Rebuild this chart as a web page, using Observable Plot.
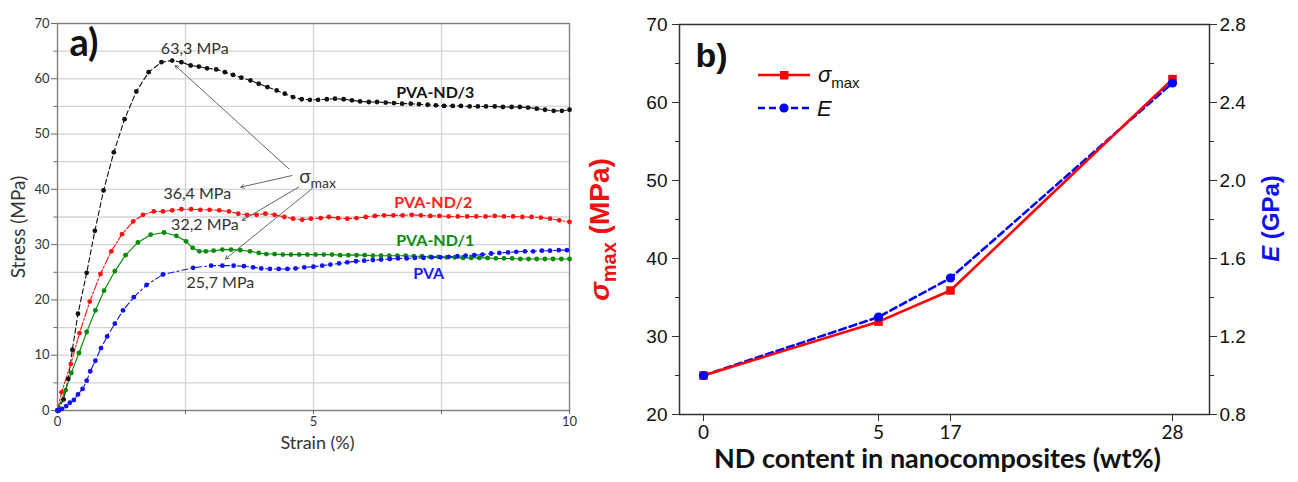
<!DOCTYPE html>
<html><head><meta charset="utf-8">
<script src="https://cdn.jsdelivr.net/npm/d3@7"></script>
<script src="https://cdn.jsdelivr.net/npm/@observablehq/plot@0.6"></script>
<style>
html,body{margin:0;padding:0;background:#fff;}
#wrap{display:flex;width:1298px;height:482px;overflow:hidden;}
#wrap svg{display:block;overflow:visible;}
</style></head><body><div id="wrap"></div>
<script>
// ---------- Panel a data: stress-strain curves ----------
const strainND3 = [0,0.12,0.21,0.29,0.40,0.57,0.73,0.90,1.10,1.31,1.54,1.78,2.03,2.24,
 2.42,2.60,2.76,2.92,3.10,3.27,3.43,3.59,3.77,3.93,4.10,4.28,4.44,4.60,4.77,4.93,5.09,5.26,5.42,5.59,
 5.75,5.91,6.08,6.24,6.41,6.57,6.73,6.90,7.06,7.23,7.39,7.55,7.72,7.88,8.05,8.21,8.37,8.54,8.70,8.87,
 9.03,9.19,9.36,9.52,9.69,9.85,10.0];
const stressND3 = [0,2,5.7,11,17.5,24.9,32.5,39.8,46.7,52.7,57.7,61.2,63.0,63.3,
 63.0,62.4,62.2,61.9,61.7,61.2,60.7,60.2,59.7,59.1,58.5,57.9,57.3,56.7,56.3,56.2,56.2,56.3,56.4,56.3,
 56.1,55.9,55.8,55.8,55.7,55.6,55.5,55.5,55.4,55.3,55.2,55.1,55.1,55.1,55.0,55.0,55.0,55.0,54.9,54.9,
 54.9,54.8,54.6,54.4,54.2,54.2,54.4];

const strainND2 = [0,0.08,0.26,0.43,0.63,0.84,1.05,1.26,1.48,1.67,1.88,2.06,2.24,2.42,2.61,2.79,2.97,3.16,3.35,3.53,
 3.70,3.89,4.06,4.24,4.43,4.60,4.78,4.95,5.14,5.30,
 5.48,5.66,5.84,6.02,6.20,6.38,6.56,6.74,6.92,7.10,7.28,7.46,7.64,7.82,8.00,8.18,8.36,8.54,8.72,8.90,
 9.08,9.26,9.44,9.62,9.80,10.0];
const stressND2 = [0,3.3,8.4,14,19.7,24.7,28.8,31.9,34.2,35.4,36.0,36.0,36.2,36.4,36.4,36.3,36.3,36.2,36.0,35.6,
 35.4,35.4,35.6,35.4,35.0,34.7,34.5,34.7,34.8,35.0,
 34.8,34.7,34.8,35.0,35.2,35.3,35.3,35.3,35.4,35.3,35.2,35.2,35.1,35.1,35.1,35.1,35.1,35.2,35.1,35.1,
 35.0,35.0,34.9,34.7,34.4,34.1];

const strainND1 = [0,0.16,0.27,0.42,0.57,0.74,0.91,1.12,1.33,1.57,1.82,2.08,2.32,2.51,2.64,2.77,2.90,3.05,3.22,3.39,
 3.57,3.76,3.93,4.08,
 4.24,4.40,4.56,4.72,4.88,5.04,5.20,5.36,5.52,5.68,5.84,6.00,6.16,6.32,6.48,6.64,6.80,6.96,7.12,7.28,
 7.44,7.60,7.76,7.92,8.08,8.24,8.40,8.56,8.72,8.88,9.04,9.20,9.36,9.52,9.68,9.84,10.0];
const stressND1 = [0,3.7,6.8,10.4,14.2,18.1,21.7,25.2,28.1,30.4,31.8,32.2,31.6,30.6,29.4,28.8,28.8,28.9,29.1,29.1,
 29.0,28.8,28.5,28.3,
 28.3,28.2,28.2,28.2,28.2,28.2,28.2,28.2,28.1,28.1,28.1,28.1,28.0,28.0,28.0,28.0,28.0,27.9,27.9,27.8,
 27.8,27.7,27.7,27.6,27.6,27.6,27.6,27.5,27.5,27.5,27.4,27.4,27.4,27.4,27.4,27.4,27.4];

const strainPVA = [0,0.03,0.09,0.17,0.24,0.32,0.40,0.49,0.57,0.64,0.74,0.85,0.97,1.12,1.28,1.49,1.74,2.06,2.65,3.00,
 3.22,3.44,3.64,3.82,3.98,4.15,4.32,4.49,4.65,4.82,5.00,5.17,5.33,
 5.50,5.66,5.83,5.99,6.16,6.32,6.49,6.65,6.82,6.98,7.15,7.31,7.48,7.64,7.81,7.97,8.14,8.30,8.47,8.63,
 8.80,8.96,9.13,9.29,9.46,9.62,9.79,9.95];
const stressPVA = [0,0,0.3,0.8,1.4,1.9,2.9,3.9,5.4,7.1,9.0,11.3,13.4,15.7,18.1,20.5,22.7,24.6,25.8,26.2,
 26.2,26.2,26.1,25.9,25.7,25.6,25.6,25.6,25.7,25.9,26.0,26.2,26.4,
 26.6,26.8,27.0,27.1,27.2,27.3,27.4,27.5,27.5,27.6,27.6,27.7,27.7,27.8,27.9,28.0,28.1,28.2,28.4,28.5,
 28.6,28.7,28.8,28.8,28.9,28.9,29.0,29.0];

const seriesNames = ["PVA-ND/3","PVA-ND/2","PVA-ND/1","PVA"];
const peakLabels = ["63,3 MPa","36,4 MPa","32,2 MPa","25,7 MPa"];
const strainTicks = [0,5,10];
const stressTicks = [0,10,20,30,40,50,60,70];

// ---------- Panel b data ----------
const ndContent = [0,5,17,28];
const sigmaMax = [25.0,31.9,35.9,63.0];
const modulusE = [1.0,1.3,1.5,2.5];
const sigmaTicks = [20,30,40,50,60,70];
const eTicks = [0.8,1.2,1.6,2.0,2.4,2.8];

// ---------- styles (kept apart from data) ----------
const styleOf = {
  "PVA-ND/3": {color:"#111111", dash:"5,3"},
  "PVA-ND/2": {color:"#ff1010", dash:"8,2,2,2"},
  "PVA-ND/1": {color:"#008a00", dash:null},
  "PVA":      {color:"#1010ff", dash:"6,3,2,3"}
};
const curveData = [[strainND3,stressND3],[strainND2,stressND2],[strainND1,stressND1],[strainPVA,stressPVA]];
const rowsA = seriesNames.flatMap((name,i) => curveData[i][0].map((s,j) => ({series:name, strain:s, stress:curveData[i][1][j]})));

const FA = "Lato, 'Open Sans', sans-serif";
const FB = "'Liberation Sans', Arial, sans-serif";

function richText(svg, match, parts){
  d3.select(svg).selectAll("text").filter(function(){return this.textContent === match;}).each(function(){
    const el = d3.select(this); el.text(null);
    parts.forEach(p => {
      const ts = el.append("tspan").text(p.t);
      if (p.italic) ts.attr("font-style","italic");
      if (p.size) ts.attr("font-size", p.size);
      if (p.dy) ts.attr("dy", p.dy);
    });
  });
}

// ---------- Panel a ----------
const lineMarks = seriesNames.map(name => Plot.line(rowsA.filter(d=>d.series===name), {
  x:"strain", y:"stress", stroke: styleOf[name].color, strokeWidth:1.1,
  strokeDasharray: styleOf[name].dash || undefined
}));
const dotMarks = seriesNames.map(name => Plot.dot(rowsA.filter(d=>d.series===name), {
  x:"strain", y:"stress", fill: styleOf[name].color, r:2.4, stroke:"none"
}));

const A = Plot.plot({
  width:585, height:482,
  marginLeft:57, marginRight:16, marginTop:23, marginBottom:72,
  style:{fontFamily:FA, fontSize:"13px", color:"#333", background:"#fff"},
  x:{domain:[0,10], label:null},
  y:{domain:[0,70], label:null},
  marks:[
    Plot.gridX([0,2.5,5,7.5,10], {stroke:"#d4d4d4", strokeOpacity:1, strokeWidth:1.3}),
    Plot.gridY(d3.range(0,71,5), {stroke:"#d4d4d4", strokeOpacity:1, strokeWidth:1.3}),
    Plot.frame({stroke:"#808080", strokeWidth:1.3}),
    Plot.axisY(stressTicks, {tickSize:6, tickPadding:2, fontSize:13, fill:"#333", stroke:"#666", label:null}),
    Plot.axisY(d3.range(5,70,10), {tickSize:3.5, tickFormat:()=>"", stroke:"#666", label:null}),
    Plot.axisX(strainTicks, {tickSize:4, tickPadding:2, fontSize:13, fill:"#333", stroke:"#666", label:null}),
    Plot.axisX([2.5,7.5], {tickSize:4, tickFormat:()=>"", stroke:"#666", label:null}),
    Plot.text(["Stress (MPa)"], {frameAnchor:"left", textAnchor:"middle", dx:-39, dy:10, rotate:-90, fontSize:19, fill:"#333"}),
    Plot.text(["Strain (%)"], {frameAnchor:"bottom", textAnchor:"middle", dx:4, dy:38, fontSize:18, fill:"#333"}),
    ...lineMarks,
    ...dotMarks,
    // annotations
    Plot.arrow([0], {x1:4.52, y1:43.7, x2:2.30, y2:62.4, stroke:"#555", strokeWidth:0.9, headLength:6}),
    Plot.arrow([0], {x1:4.58, y1:42.5, x2:3.58, y2:40.4, stroke:"#555", strokeWidth:0.9, headLength:6}),
    Plot.arrow([0], {x1:4.71, y1:40.4, x2:3.61, y2:34.4, stroke:"#555", strokeWidth:0.9, headLength:6}),
    Plot.arrow([0], {x1:4.97, y1:40.1, x2:3.28, y2:27.4, stroke:"#555", strokeWidth:0.9, headLength:6}),
    Plot.text([peakLabels[0]], {x:2.68, y:65.4, fontSize:16, fill:"#333"}),
    Plot.text([peakLabels[1]], {x:2.73, y:39.1, fontSize:16, fill:"#333"}),
    Plot.text([peakLabels[2]], {x:2.88, y:33.6, fontSize:16, fill:"#333"}),
    Plot.text([peakLabels[3]], {x:3.18, y:23.1, fontSize:16, fill:"#333"}),
    Plot.text(["σmax"], {x:4.72, y:42.2, textAnchor:"start", fontSize:19, fill:"#333"}),
    Plot.text([seriesNames[0]], {x:7.38, y:57.5, fontSize:16, fontWeight:"bold", fill:"#111"}),
    Plot.text([seriesNames[1]], {x:7.34, y:37.6, fontSize:16, fontWeight:"bold", fill:"#ff2020"}),
    Plot.text([seriesNames[2]], {x:7.38, y:30.6, fontSize:16, fontWeight:"bold", fill:"#0a8a0a"}),
    Plot.text([seriesNames[3]], {x:7.25, y:24.8, fontSize:16, fontWeight:"bold", fill:"#1a1aff"}),
    Plot.text(["a)"], {frameAnchor:"top-left", textAnchor:"start", lineAnchor:"top", dx:12, dy:6, fontSize:38, fontWeight:"bold", fill:"#111"})
  ]
});
richText(A, "σmax", [{t:"σ", size:19},{t:"max", size:14, dy:5}]);

// ---------- Panel b ----------
const eToY = e => 20 + (e - 0.8) * 25;
const yToE = y => (y - 20) / 25 + 0.8;
// non-uniform category axis of the original figure (fraction of the frame width)
const ndAxis = d3.scaleLinear().domain(ndContent).range([0.0453, 0.3755, 0.5113, 0.9302]);
const rowsB = ndContent.map((w,i) => ({wt:w, sigma:sigmaMax[i], E:modulusE[i]}));

const B = Plot.plot({
  width:713, height:482,
  marginLeft:94, marginRight:89, marginTop:24, marginBottom:68,
  style:{fontFamily:FB, fontSize:"19px", color:"#111", background:"#fff"},
  x:{domain:[0,1], transform: ndAxis, label:null},
  y:{domain:[20,70], label:null},
  marks:[
    Plot.frame({stroke:"#333", strokeWidth:1.5}),
    Plot.axisY(sigmaTicks, {tickSize:7, tickPadding:5, fontSize:19, stroke:"#333", fill:"#111", label:null}),
    Plot.axisY(d3.range(25,70,10), {tickSize:4, tickFormat:()=>"", stroke:"#333", label:null}),
    Plot.axisY(eTicks.map(eToY), {anchor:"right", tickSize:7, tickPadding:3, fontSize:19, stroke:"#333", fill:"#111",
      tickFormat: y => yToE(y).toFixed(1), label:null}),
    Plot.axisY(d3.range(25,70,10), {anchor:"right", tickSize:4, tickFormat:()=>"", stroke:"#333", label:null}),
    Plot.axisX(ndContent, {tickSize:7, tickPadding:4, fontSize:19, fontFamily:FA, stroke:"#333", fill:"#111", tickFormat:d=>String(d), label:null}),
    Plot.text(["σmax (MPa)"], {frameAnchor:"left", textAnchor:"middle", dx:-79, dy:10, rotate:-90, fontSize:28, fontWeight:"bold", fill:"#ee1111"}),
    Plot.text(["E (GPa)"], {frameAnchor:"right", textAnchor:"middle", dx:62, dy:-1, rotate:-90, fontSize:24, fontWeight:"bold", fill:"#1111ee"}),
    Plot.text(["ND content in nanocomposites (wt%)"], {frameAnchor:"bottom", textAnchor:"middle", dx:-7, dy:53, fontSize:27, fontWeight:"bold", fontFamily:FA, fill:"#111"}),
    Plot.line(rowsB, {x:"wt", y:d=>eToY(d.E), stroke:"#0000ff", strokeWidth:2.6, strokeDasharray:"7,4"}),
    Plot.line(rowsB, {x:"wt", y:"sigma", stroke:"#ff0000", strokeWidth:2.6}),
    Plot.dot(rowsB, {x:"wt", y:"sigma", symbol:"square", r:4.8, fill:"#ff0000", stroke:"none"}),
    Plot.dot(rowsB, {x:"wt", y:d=>eToY(d.E), r:4.6, fill:"#0000ff", stroke:"none"}),
    Plot.text(["b)"], {frameAnchor:"top-left", textAnchor:"start", lineAnchor:"top", dx:16, dy:18, fontSize:34, fontWeight:"bold", fill:"#111"})
  ]
});
richText(B, "σmax (MPa)", [{t:"σ", italic:true},{t:"max", size:20, dy:7},{t:" (MPa)", dy:-7}]);
richText(B, "E (GPa)", [{t:"E", italic:true},{t:" (GPa)"}]);

// legend (inside panel b)
const lg = d3.select(B).append("g").attr("font-family", FB).attr("fill","#111").attr("text-anchor","start");
lg.append("line").attr("x1",173).attr("x2",225).attr("y1",75).attr("y2",75).attr("stroke","#ff0000").attr("stroke-width",2.6);
lg.append("rect").attr("x",195).attr("y",71).attr("width",8.5).attr("height",8.5).attr("fill","#ff0000");
const t1 = lg.append("text").attr("x",233).attr("y",82).attr("font-size",22);
t1.append("tspan").attr("font-style","italic").text("σ");
t1.append("tspan").attr("font-size",15).attr("dy",6).text("max");
lg.append("line").attr("x1",173).attr("x2",225).attr("y1",108).attr("y2",108).attr("stroke","#0000ff").attr("stroke-width",2.6).attr("stroke-dasharray","7,4");
lg.append("circle").attr("cx",199).attr("cy",108).attr("r",4.6).attr("fill","#0000ff");
lg.append("text").attr("x",232).attr("y",116).attr("font-size",22).attr("font-style","italic").text("E");

const wrap = document.getElementById("wrap");
wrap.appendChild(A);
wrap.appendChild(B);
</script></body></html>
